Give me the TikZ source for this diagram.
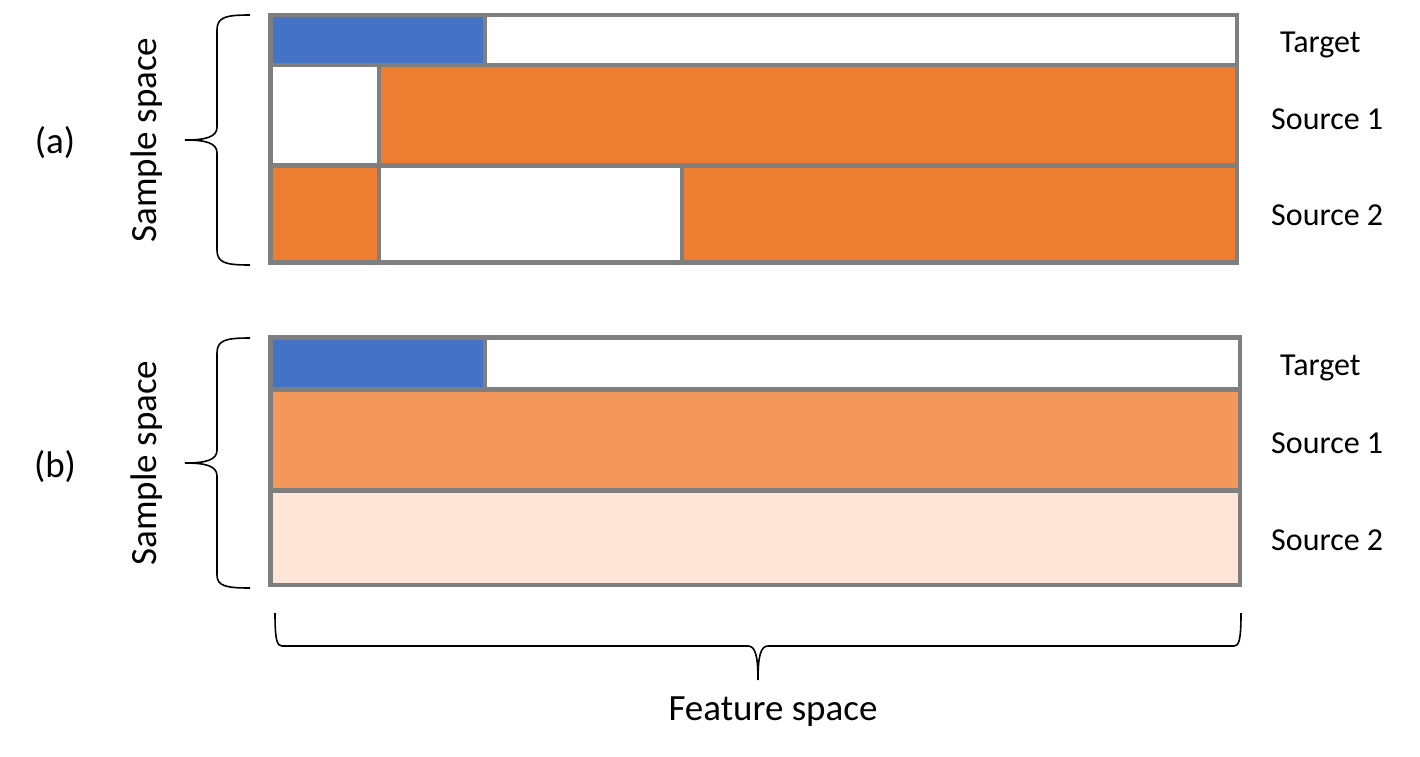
\documentclass[tikz,border=0pt]{standalone}
\usepackage{fontspec}
\setmainfont{Carlito}
\definecolor{cblue}{HTML}{4472C4}
\definecolor{corange}{HTML}{ED7D31}
\definecolor{clorange}{HTML}{F3975A}
\definecolor{cpale}{HTML}{FDE5D7}
\definecolor{cgray}{HTML}{7F7F7F}
\begin{document}
\begin{tikzpicture}[x=1pt,y=-1pt,
  grid/.style={draw=cgray,line width=4.5pt},
  brc/.style={draw=black,line width=1.6pt},
  lbl/.style={font=\fontsize{32}{38}\selectfont,inner sep=0pt},
  biglbl/.style={font=\fontsize{37}{44}\selectfont,inner sep=0pt}]
\useasboundingbox (0,0) rectangle (1420,756);
% ---------- (a) ----------
\fill[cblue] (270.5,15) rectangle (485,65);
\fill[corange] (379,65) rectangle (1237,165.5);
\fill[corange] (270.5,165.5) rectangle (379,262.5);
\fill[corange] (682,165.5) rectangle (1237,262.5);
\draw[grid] (270.5,15) rectangle (1237,262.5);
\draw[grid] (270.5,65) -- (1237,65);
\draw[grid] (270.5,165.5) -- (1237,165.5);
\draw[grid] (485,15) -- (485,65);
\draw[grid] (379,65) -- (379,262.5);
\draw[grid] (682,165.5) -- (682,262.5);
% ---------- (b) ----------
\fill[cblue] (270.5,337.5) rectangle (485,389.5);
\fill[clorange] (270.5,389.5) rectangle (1240,490.5);
\fill[cpale] (270.5,490.5) rectangle (1240,585);
\draw[grid] (270.5,337.5) rectangle (1240,585);
\draw[grid] (270.5,389.5) -- (1240,389.5);
\draw[grid] (270.5,490.5) -- (1240,490.5);
\draw[grid] (485,337.5) -- (485,389.5);
% ---------- braces ----------
\draw[brc] (250,15) .. controls (226,15) and (217,17) .. (217,30) -- (217,127)
  .. controls (217,137) and (206,140) .. (185,140)
  .. controls (206,140) and (217,143) .. (217,153) -- (217,250)
  .. controls (217,263) and (226,265) .. (250,265);
\draw[brc] (250,338) .. controls (226,338) and (217,340) .. (217,353) -- (217,450)
  .. controls (217,460) and (206,463) .. (185,463)
  .. controls (206,463) and (217,466) .. (217,476) -- (217,575)
  .. controls (217,586) and (226,588) .. (250,588);
\draw[brc] (275,613) .. controls (275,640) and (277,646) .. (282,646) -- (748,646)
  .. controls (755,646) and (758,655) .. (758,680)
  .. controls (758,655) and (761,646) .. (768,646) -- (1234,646)
  .. controls (1239,646) and (1241,640) .. (1241,613);
% ---------- labels ----------
\node[lbl,anchor=base west] (ta) at (1280,52) {Target};
\node[lbl,anchor=base west] (s1a) at (1271,129) {Source 1};
\node[lbl,anchor=base west] (s2a) at (1271,225) {Source 2};
\node[lbl,anchor=base west] (tb) at (1280,375) {Target};
\node[lbl,anchor=base west] (s1b) at (1271,453) {Source 1};
\node[lbl,anchor=base west] (s2b) at (1271,550) {Source 2};
\node[biglbl] (la) at (55,143) {(a)};
\node[biglbl] (lb) at (55,467) {(b)};
\node[biglbl,rotate=90] (ssa) at (147,140) {Sample space};
\node[biglbl,rotate=90] (ssb) at (147,463) {Sample space};
\node[biglbl] (fs) at (773,712) {Feature space};
\end{tikzpicture}
\end{document}
